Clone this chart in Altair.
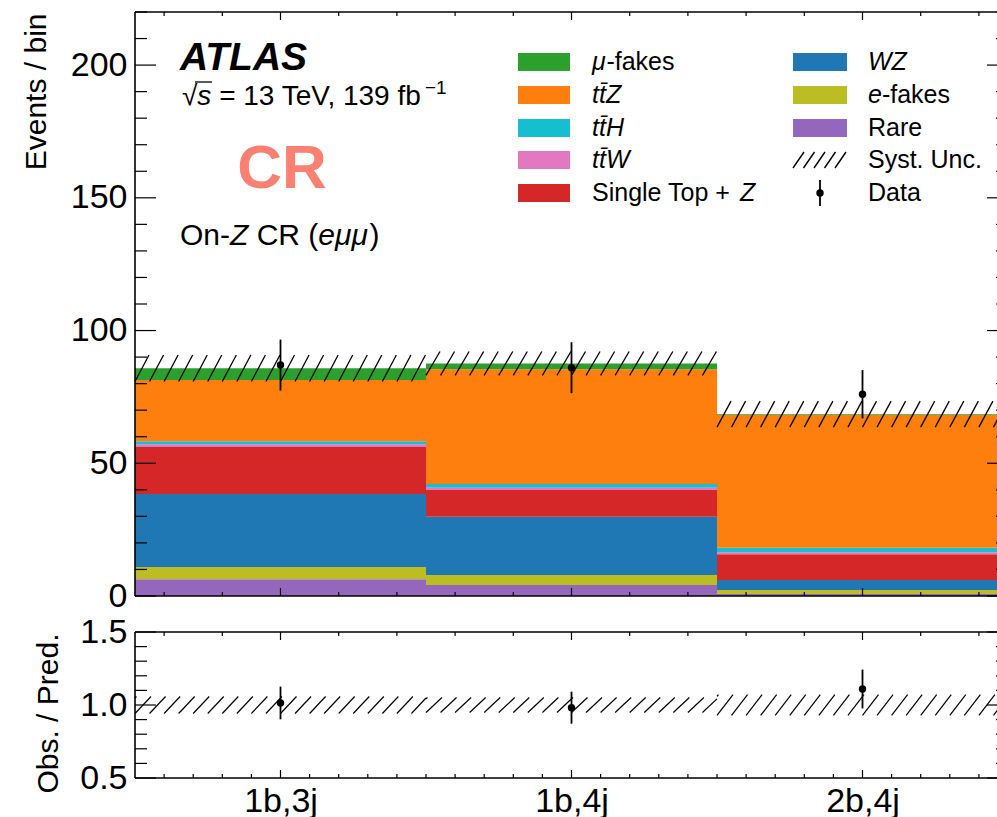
import altair as alt
import pandas as pd

FONT = "Liberation Sans"

# ---------------- data ----------------
bins = ["1b,3j", "1b,4j", "2b,4j"]
process_names = ["Rare", "e-fakes", "WZ", "Single Top + Z", "ttW", "ttH", "ttZ", "mu-fakes"]
process_colors = ["#9467bd", "#bcbd22", "#1f77b4", "#d62728", "#e377c2", "#17becf", "#ff7f0e", "#2ca02c"]
rare = [6.3, 4.1, 0.8]
e_fakes = [4.6, 3.8, 1.5]
wz = [27.5, 22.0, 3.7]
single_top_z = [17.7, 10.0, 9.7]
ttw = [1.1, 0.9, 0.8]
tth = [1.1, 1.4, 1.7]
ttz = [23.1, 43.2, 50.0]
mu_fakes = [4.4, 2.2, 0.3]
syst_unc = [5.0, 4.5, 4.9]
data_obs = [87.0, 86.0, 76.0]
data_err = [9.6, 9.6, 9.1]
y_major = [0, 50, 100, 150, 200]
r_major = [0.5, 1.0, 1.5]

# ---------------- layout ----------------
OX, OY = 135, 12          # plot origin in the page
W, H = 862, 766           # plot area (main + ratio)
BIN_PX = 291
XMAX = W / BIN_PX
XR = 3 * BIN_PX           # right spine (outside the visible page)
MAIN_H = 584
R_TOP, R_BOT = 620, 766

dummy = pd.DataFrame({"d": [0]})

# ---------------- derived tables ----------------
series = [rare, e_fakes, wz, single_top_z, ttw, tth, ttz, mu_fakes]
rows = []
totals = []
for j in range(len(bins)):
    base = 0.0
    for name, col, vals in zip(process_names, process_colors, series):
        rows.append(dict(x0=j, x1=j + 1, y0=base, y1=base + vals[j], c=col, p=name))
        base += vals[j]
    totals.append(base)
stack = pd.DataFrame(rows)

centers = [j + 0.5 for j in range(len(bins))]
dmain = pd.DataFrame(dict(xc=centers, v=data_obs,
                          lo=[d - e for d, e in zip(data_obs, data_err)],
                          hi=[d + e for d, e in zip(data_obs, data_err)]))
dratio = pd.DataFrame(dict(xc=centers,
                           v=[d / t for d, t in zip(data_obs, totals)],
                           lo=[(d - e) / t for d, e, t in zip(data_obs, data_err, totals)],
                           hi=[(d + e) / t for d, e, t in zip(data_obs, data_err, totals)]))


def hatch(lows, highs, spacing, slant):
    segs = []
    for j in range(len(lows)):
        xl, xh = j, j + 1
        yl, yh = lows[j], highs[j]
        m = int((xl - slant) / spacing) - 1
        while m * spacing < xh:
            xa, ya = m * spacing, yl
            xb, yb = xa + slant, yh
            if xa < xl:
                t = (xl - xa) / slant
                xa, ya = xl, yl + t * (yh - yl)
            if xb > xh:
                t = (xb - xh) / slant
                xb, yb = xh, yh - t * (yh - yl)
            if xb > xa:
                segs.append(dict(xa=xa, xb=xb, ya=ya, yb=yb))
            m += 1
    return pd.DataFrame(segs)


hmain = hatch([t - u for t, u in zip(totals, syst_unc)],
              [t + u for t, u in zip(totals, syst_unc)], 0.05, 14 / BIN_PX)
hratio = hatch([1 - u / t for t, u in zip(totals, syst_unc)],
               [1 + u / t for t, u in zip(totals, syst_unc)], 0.05, 16 / BIN_PX)

# ---------------- scales / axes ----------------
xscale = alt.Scale(domain=[0, XMAX], nice=False, zero=False)
label_expr = (f"datum.value < 1 ? '{bins[0]}' : (datum.value < 2 ? '{bins[1]}' : '{bins[2]}')")
x_axis = alt.Axis(orient="bottom", values=centers, labelExpr=label_expr, ticks=False,
                  domain=False, grid=False, labelFontSize=34, labelPadding=6,
                  labelFont=FONT, labelColor="black", title=None)
ymain = alt.Scale(domain=[0, 220], range=[MAIN_H, 0], nice=False, zero=False)
y_main_axis = alt.Axis(orient="left", values=y_major, ticks=False, domain=False, grid=False,
                       labelFontSize=34, labelPadding=8, labelFont=FONT, labelColor="black",
                       title="Events / bin", titleFont=FONT, titleFontSize=30,
                       titleFontWeight="normal", titleColor="black", titleAngle=270,
                       titleAlign="right", titleBaseline="alphabetic", titleX=-90, titleY=1)
yratio = alt.Scale(domain=[0.5, 1.5], range=[R_BOT, R_TOP], nice=False, zero=False)
y_ratio_axis = alt.Axis(orient="left", values=r_major, format=".1f", ticks=False, domain=False,
                        grid=False, labelFontSize=34, labelPadding=8, labelFont=FONT,
                        labelColor="black", title="Obs. / Pred.", titleFont=FONT,
                        titleFontSize=30, titleFontWeight="normal", titleColor="black",
                        titleAngle=270, titleAlign="right", titleBaseline="alphabetic",
                        titleX=-78, titleY=R_TOP + 1)


def X(f):
    return alt.X(f, type="quantitative", scale=xscale, axis=x_axis)


def YM(f):
    return alt.Y(f, type="quantitative", scale=ymain, axis=y_main_axis)


def YR(f):
    return alt.Y(f, type="quantitative", scale=yratio, axis=y_ratio_axis)


def vals(v):
    return pd.DataFrame({"v": v})


def tick_layers(Yf, ymaj, ymin, top, bot, xmaj, xmin_top, xmin_bot):
    out = []
    for v, ln in ((ymaj, 21), (ymin, 12)):
        out.append(alt.Chart(vals(v)).mark_rule(color="black", strokeWidth=1.2).encode(
            y=Yf("v"), x=alt.value(0), x2=alt.value(ln)))
        out.append(alt.Chart(vals(v)).mark_rule(color="black", strokeWidth=1.2).encode(
            y=Yf("v"), x=alt.value(XR - ln), x2=alt.value(XR)))
    for v, ln in ((xmaj, 8), (xmin_top, 4)):
        out.append(alt.Chart(vals(v)).mark_rule(color="black", strokeWidth=1.2).encode(
            x=X("v"), y=alt.value(top), y2=alt.value(top + ln)))
    for v, ln in ((xmaj, 8), (xmin_bot, 4)):
        out.append(alt.Chart(vals(v)).mark_rule(color="black", strokeWidth=1.2).encode(
            x=X("v"), y=alt.value(bot - ln), y2=alt.value(bot)))
    # spines
    out.append(alt.Chart(dummy).mark_rule(color="black", strokeWidth=1.6).encode(
        x=alt.value(0), y=alt.value(top), y2=alt.value(bot)))
    out.append(alt.Chart(dummy).mark_rule(color="black", strokeWidth=1.6).encode(
        x=alt.value(0), x2=alt.value(XR), y=alt.value(top)))
    out.append(alt.Chart(dummy).mark_rule(color="black", strokeWidth=1.6).encode(
        x=alt.value(0), x2=alt.value(XR), y=alt.value(bot)))
    return out


x_major = centers
x_minor_02 = [round(0.1 + 0.2 * k, 2) for k in range(15) if round(0.1 + 0.2 * k, 2) not in x_major]
x_minor_01 = [round(0.1 * k, 2) for k in range(1, 30) if round(0.1 * k, 2) not in x_major]
y_minor = [v for v in range(10, 221, 10) if v % 50]
r_minor = [round(0.5 + 0.1 * k, 2) for k in range(1, 10) if round(0.5 + 0.1 * k, 2) != 1.0]

# ---------------- main panel ----------------
bars = alt.Chart(stack).mark_rect().encode(
    x=X("x0"), x2="x1", y=YM("y0"), y2="y1", color=alt.Color("c:N", scale=None))
hatch_main = alt.Chart(hmain).mark_rule(color="black", strokeWidth=1.3).encode(
    x=X("xa"), x2="xb", y=YM("ya"), y2="yb")
err_main = alt.Chart(dmain).mark_rule(color="black", strokeWidth=1.8).encode(
    x=X("xc"), y=YM("lo"), y2="hi")
pts_main = alt.Chart(dmain).mark_point(filled=True, color="black", opacity=1, size=55).encode(
    x=X("xc"), y=YM("v"))
main = alt.layer(bars, hatch_main, err_main, pts_main,
                 *tick_layers(YM, y_major, y_minor, 0, MAIN_H, x_major, x_minor_02, x_minor_02))

# ---------------- ratio panel ----------------
hatch_r = alt.Chart(hratio).mark_rule(color="black", strokeWidth=1.2).encode(
    x=X("xa"), x2="xb", y=YR("ya"), y2="yb")
err_r = alt.Chart(dratio).mark_rule(color="black", strokeWidth=1.8).encode(
    x=X("xc"), y=YR("lo"), y2="hi")
pts_r = alt.Chart(dratio).mark_point(filled=True, color="black", opacity=1, size=55).encode(
    x=X("xc"), y=YR("v"))
ratio = alt.layer(hatch_r, err_r, pts_r,
                  *tick_layers(YR, r_major, r_minor, R_TOP, R_BOT, x_major, x_minor_02, x_minor_01))

# ---------------- annotations ----------------
AW = {' ': 278, '(': 333, ')': 333, '+': 584, ',': 278, '-': 333, '.': 278,
      '/': 278, '=': 584, '\u221a': 549, '\u03bc': 576, '\u2212': 584, '\u0304': 0,
      'A': 667, 'C': 722, 'D': 722, 'E': 667, 'H': 722, 'L': 556, 'O': 778, 'P': 667, 'R': 722,
      'S': 667, 'T': 611, 'U': 722, 'V': 667, 'W': 944, 'Z': 611,
      'a': 556, 'b': 556, 'c': 500, 'd': 556, 'e': 556, 'f': 278, 'g': 556, 'i': 222, 'j': 222,
      'k': 500, 'l': 222, 'n': 556, 'o': 556, 'p': 556, 'r': 333, 's': 500, 't': 278, 'u': 556,
      'v': 500, 'y': 500}


def tw(s, size):
    return sum(AW.get(ch, 556) for ch in s) * size / 1000.0


def seg_text(segs, x0, y0, size, baseline="alphabetic"):
    """Draw a line made of segments of different styles; spaces at the ends of a
    segment are turned into cursor advances (SVG would drop them)."""
    out = []
    x = x0
    for seg in segs:
        raw, style = seg[0], seg[1]
        fs = seg[2] if len(seg) > 2 else size
        dy = seg[3] if len(seg) > 3 else 0
        kern = seg[4] if len(seg) > 4 else 0
        lead = len(raw) - len(raw.lstrip(" "))
        trail = len(raw) - len(raw.rstrip(" "))
        core = raw.strip(" ")
        x += tw(" " * lead, fs) + kern
        out.append(alt.Chart(dummy).mark_text(
            align="left", baseline=baseline, font=FONT, fontSize=fs, fontStyle=style,
            color="black", dy=dy).encode(x=alt.value(x), y=alt.value(y0), text=alt.value(core)))
        x += tw(core, fs) + tw(" " * trail, fs)
    return out


N, I = "normal", "italic"
annots = []
annots.append(alt.Chart(dummy).mark_text(
    align="left", baseline="alphabetic", font=FONT, fontSize=39, fontStyle="italic",
    fontWeight="bold", color="black").encode(x=alt.value(45), y=alt.value(58), text=alt.value("ATLAS")))
annots += seg_text([("\u221a", N), ("s", I), (" = 13 TeV, 139 fb", N), ("\u22121", N, 19, -11, -2)],
                   47, 93, 28)
# overbar of the square root
annots.append(alt.Chart(dummy).mark_rule(color="black", strokeWidth=1.3).encode(
    x=alt.value(60), x2=alt.value(77), y=alt.value(70)))
annots.append(alt.Chart(dummy).mark_text(
    align="center", baseline="alphabetic", font=FONT, fontSize=62, fontWeight="bold",
    color="#fa8072").encode(x=alt.value(147), y=alt.value(176), text=alt.value("CR")))
annots += seg_text([("On-", N), ("Z", I), (" CR (", N), ("e\u03bc\u03bc", I), (")", N)], 45, 233, 30)

# legend
row_y = [50, 83, 116, 148, 181]
tbar = "t\u0304"
legend_col1 = [
    ([("\u03bc", I), ("-fakes", N)], "#2ca02c"),
    ([("t" + tbar + "Z", I)], "#ff7f0e"),
    ([("t" + tbar + "H", I)], "#17becf"),
    ([("t" + tbar + "W", I)], "#e377c2"),
    ([("Single Top + ", N), ("Z", I)], "#d62728"),
]
legend_col2 = [
    ([("WZ", I)], "#1f77b4"),
    ([("e", I), ("-fakes", N)], "#bcbd22"),
    ([("Rare", N)], "#9467bd"),
    ([("Syst. Unc.", N)], None),
    ([("Data", N)], None),
]
for col, (px0, px1, tx) in ((legend_col1, (383, 435, 457)), (legend_col2, (658, 712, 733))):
    for r, (segs, colr) in enumerate(col):
        yc = row_y[r]
        if colr is not None:
            annots.append(alt.Chart(dummy).mark_rect(color=colr).encode(
                x=alt.value(px0), x2=alt.value(px1), y=alt.value(yc - 9), y2=alt.value(yc + 9)))
        annots += seg_text(segs, tx, yc, 25, baseline="middle")

# Syst. Unc. symbol
for i in range(5):
    xa = 658 + i * 10.5
    annots.append(alt.Chart(dummy).mark_rule(color="black", strokeWidth=1.4).encode(
        x=alt.value(xa), x2=alt.value(xa + 11), y=alt.value(row_y[3] + 8), y2=alt.value(row_y[3] - 8)))
# Data symbol
annots.append(alt.Chart(dummy).mark_rule(color="black", strokeWidth=1.8).encode(
    x=alt.value(685), y=alt.value(row_y[4] - 13), y2=alt.value(row_y[4] + 13)))
annots.append(alt.Chart(dummy).mark_point(filled=True, color="black", opacity=1, size=55).encode(
    x=alt.value(685), y=alt.value(row_y[4])))

chart = alt.layer(main, ratio, *annots).resolve_scale(y="independent").properties(
    width=W, height=H,
    autosize=alt.AutoSizeParams(type="none"),
    padding={"left": OX, "top": OY, "right": 0, "bottom": 817 - OY - H},
    background="white",
).configure_view(stroke=None)

chart.save("out.html", embed_options={"renderer": "svg", "actions": False})
